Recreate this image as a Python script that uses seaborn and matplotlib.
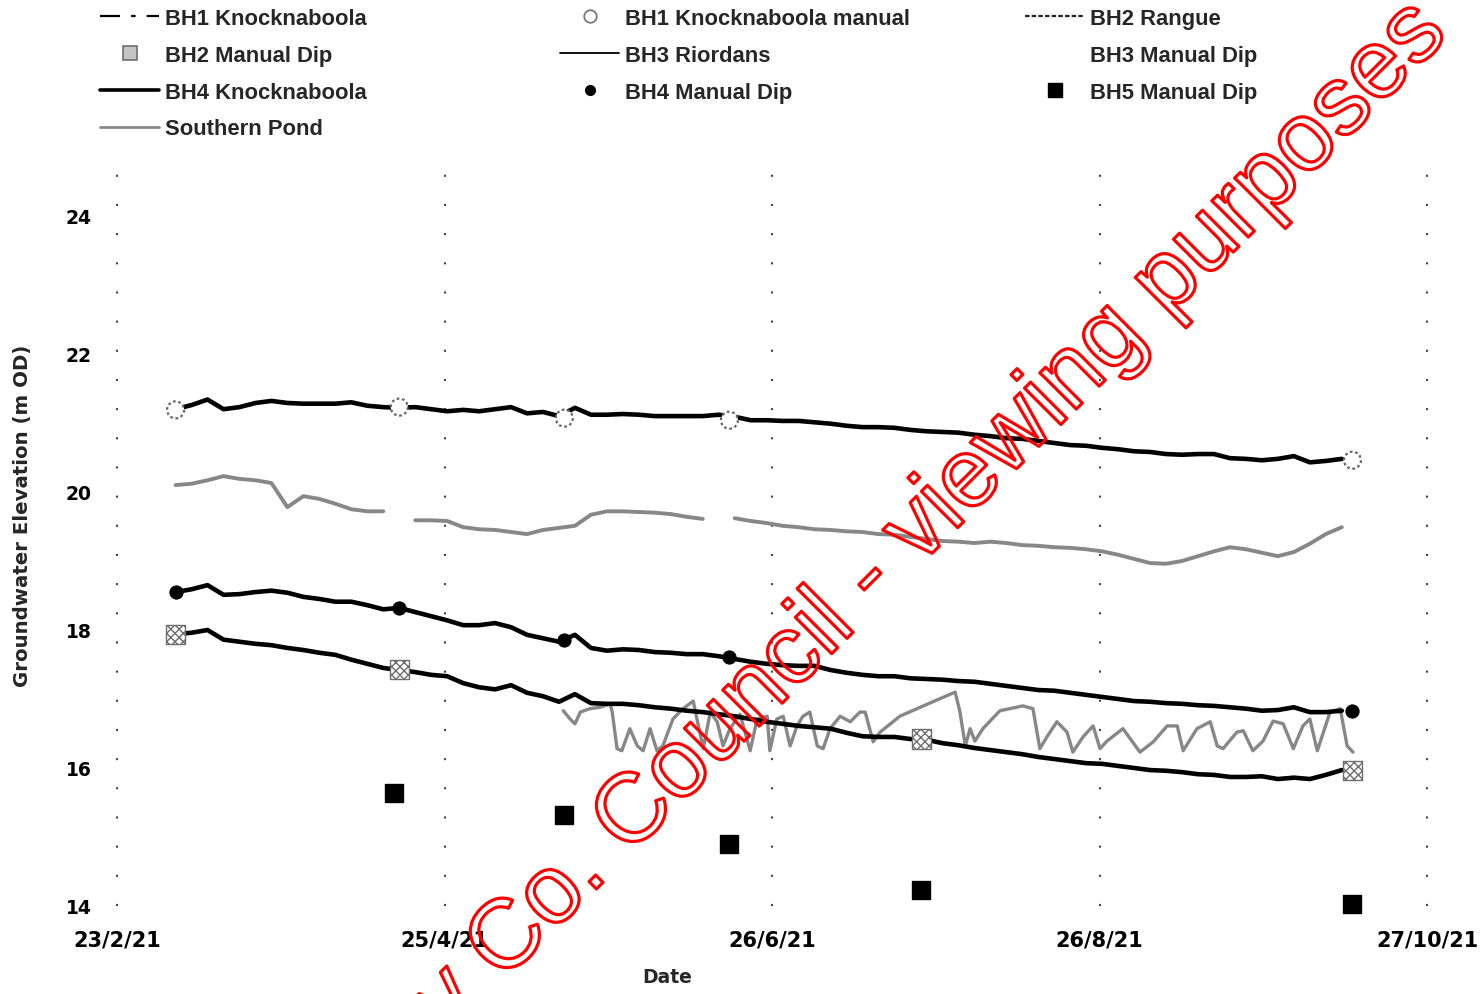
import numpy as np
import pandas as pd
import matplotlib
matplotlib.use("Agg")
import matplotlib.pyplot as plt
import seaborn as sns
from matplotlib.lines import Line2D
from matplotlib import patheffects as pe

# ---------------------------------------------------------------------------
# Logger records (3-day readings from 6 March 2021), elevations in m OD
# ---------------------------------------------------------------------------
logger_start = "2021-03-06"
logger_step = "3D"

bh1_level = [
    21.20, 21.26, 21.34, 21.20, 21.23, 21.29, 21.32, 21.29, 21.28, 21.28,
    21.28, 21.30, 21.25, 21.23, 21.22, 21.23, 21.20, 21.17, 21.19, 21.17,
    21.20, 21.23, 21.14, 21.16, 21.10, 21.22, 21.12, 21.12, 21.13, 21.12,
    21.10, 21.10, 21.10, 21.10, 21.12, 21.09, 21.04, 21.04, 21.03, 21.03,
    21.01, 20.99, 20.96, 20.94, 20.94, 20.93, 20.90, 20.88, 20.87, 20.86,
    20.83, 20.81, 20.78, 20.77, 20.74, 20.71, 20.68, 20.67, 20.64, 20.62,
    20.59, 20.58, 20.55, 20.54, 20.55, 20.55, 20.49, 20.48, 20.46, 20.48,
    20.52, 20.43, 20.45, 20.48,
]

bh2_level = [
    17.94, 17.96, 18.00, 17.86, 17.83, 17.80, 17.78, 17.74, 17.71, 17.67,
    17.64, 17.57, 17.51, 17.45, 17.42, 17.39, 17.35, 17.33, 17.23, 17.17,
    17.14, 17.20, 17.09, 17.04, 16.96, 17.07, 16.94, 16.93, 16.93, 16.91,
    16.88, 16.86, 16.83, 16.81, 16.78, 16.75, 16.71, 16.67, 16.64, 16.61,
    16.59, 16.57, 16.51, 16.46, 16.45, 16.45, 16.42, 16.41, 16.36, 16.33,
    16.29, 16.26, 16.23, 16.20, 16.16, 16.13, 16.10, 16.07, 16.06, 16.03,
    16.00, 15.97, 15.96, 15.94, 15.91, 15.90, 15.87, 15.87, 15.88, 15.84,
    15.86, 15.84, 15.90, 15.97,
]

bh4_level = [
    18.55, 18.59, 18.65, 18.51, 18.52, 18.55, 18.57, 18.54, 18.48, 18.45,
    18.41, 18.41, 18.36, 18.30, 18.32, 18.26, 18.20, 18.14, 18.07, 18.07,
    18.10, 18.04, 17.93, 17.88, 17.83, 17.93, 17.74, 17.70, 17.72, 17.71,
    17.68, 17.67, 17.65, 17.65, 17.62, 17.58, 17.54, 17.51, 17.49, 17.48,
    17.48, 17.42, 17.38, 17.35, 17.33, 17.33, 17.30, 17.29, 17.28, 17.26,
    17.25, 17.22, 17.19, 17.16, 17.13, 17.12, 17.09, 17.06, 17.03, 17.00,
    16.97, 16.96, 16.94, 16.93, 16.91, 16.90, 16.88, 16.86, 16.83, 16.84,
    16.88, 16.81, 16.81, 16.83,
]

pond_level = [
    20.10, 20.12, 20.17, 20.23, 20.19, 20.17, 20.13, 19.78, 19.94, 19.90,
    19.83, 19.75, 19.72, 19.72, np.nan, 19.59, 19.59, 19.58, 19.49, 19.46,
    19.45, 19.42, 19.39, 19.45, 19.48, 19.51, 19.67, 19.72, 19.72, 19.71,
    19.70, 19.68, 19.64, 19.61, np.nan, 19.62, 19.58, 19.55, 19.51, 19.49,
    19.46, 19.45, 19.43, 19.42, 19.39, 19.38, 19.35, 19.32, 19.29, 19.28,
    19.26, 19.28, 19.26, 19.23, 19.22, 19.20, 19.19, 19.17, 19.14, 19.09,
    19.03, 18.97, 18.96, 19.00, 19.07, 19.14, 19.20, 19.17, 19.12, 19.07,
    19.13, 19.25, 19.39, 19.49,
]

# BH3 Riordans logger: elapsed days after 23/2/21 and level
bh3_origin = "2021-02-23"
bh3_days = [
    83.8, 85.1, 86.0, 87.0, 88.8, 90.7, 92.6, 93.0, 93.9, 94.8,
    96.3, 97.7, 98.8, 100.1, 101.4, 102.5, 104.4, 106.3, 108.2, 110.1,
    111.4, 112.7, 113.8, 115.1, 117.0, 118.9, 120.2, 122.1, 122.6, 123.9,
    125.1, 126.4, 127.7, 128.8, 130.1, 131.5, 132.6, 133.9, 135.8, 137.7,
    139.5, 140.5, 142.0, 143.3, 147.0, 153.2, 157.4, 158.3, 159.3, 160.2,
    161.1, 162.6, 165.8, 170.1, 172.0, 173.3, 174.7, 176.5, 178.4, 179.5,
    181.4, 183.3, 184.6, 185.9, 188.9, 192.1, 194.6, 197.2, 199.1, 200.2,
    202.8, 205.3, 206.6, 207.7, 210.3, 211.5, 213.3, 215.2, 217.1, 219.0,
    220.9, 222.7, 224.0, 225.4, 227.8, 229.7, 231.0, 232.1,
]
bh3_level = [
    16.83, 16.71, 16.64, 16.81, 16.86, 16.88, 16.93, 16.81, 16.28, 16.25,
    16.57, 16.32, 16.25, 16.57, 16.25, 16.32, 16.71, 16.86, 16.97, 16.28,
    16.81, 16.67, 16.32, 16.57, 16.78, 16.25, 16.71, 16.75, 16.25, 16.71,
    16.75, 16.32, 16.61, 16.75, 16.81, 16.32, 16.28, 16.57, 16.75, 16.67,
    16.81, 16.81, 16.38, 16.52, 16.75, 16.96, 17.10, 16.81, 16.32, 16.57,
    16.39, 16.57, 16.83, 16.90, 16.86, 16.28, 16.46, 16.67, 16.52, 16.23,
    16.45, 16.61, 16.28, 16.39, 16.57, 16.23, 16.38, 16.61, 16.61, 16.25,
    16.57, 16.67, 16.32, 16.28, 16.52, 16.54, 16.25, 16.39, 16.68, 16.64,
    16.28, 16.61, 16.71, 16.25, 16.81, 16.86, 16.32, 16.23,
]

# Manual dips
bh1_manual_dates = ["2021-03-06", "2021-04-17", "2021-05-18", "2021-06-18", "2021-10-13"]
bh1_manual = [21.19, 21.23, 21.07, 21.04, 20.46]
bh2_manual_dates = ["2021-03-06", "2021-04-17", "2021-07-24", "2021-10-13"]
bh2_manual = [17.94, 17.43, 16.42, 15.96]
bh4_manual_dates = ["2021-03-06", "2021-04-17", "2021-05-18", "2021-06-18", "2021-10-13"]
bh4_manual = [18.55, 18.32, 17.85, 17.61, 16.83]
bh5_manual_dates = ["2021-04-16", "2021-05-18", "2021-06-18", "2021-07-24", "2021-10-13"]
bh5_manual = [15.64, 15.32, 14.90, 14.23, 14.03]

# Axis set-up
x_start, x_end = "2021-02-23", "2021-10-27"
x_major_days = 61.5
y_ticks = [14, 16, 18, 20, 22, 24]
y_limits = (14, 24.855)

legend_columns = [
    ["BH1 Knocknaboola", "BH2 Manual Dip", "BH4 Knocknaboola", "Southern Pond"],
    ["BH1 Knocknaboola manual", "BH3 Riordans", "BH4 Manual Dip"],
    ["BH2 Rangue", "BH3 Manual Dip", "BH5 Manual Dip"],
]

# ---------------------------------------------------------------------------
sns.set_theme(style="white")
plt.rcParams["font.family"] = ["DejaVu Sans"]
plt.rcParams["hatch.linewidth"] = 1.0

W, H = 1481, 995
fig = plt.figure(figsize=(W / 100, H / 100), dpi=100)
ax_left, ax_right, ax_bottom, ax_top = 117, 1427, 907, 158
ax = fig.add_axes([ax_left / W, 1 - ax_bottom / H,
                   (ax_right - ax_left) / W, (ax_bottom - ax_top) / H])

logger_dates = pd.date_range(logger_start, periods=len(bh1_level), freq=logger_step)
logger = pd.DataFrame({"date": logger_dates, "bh1": bh1_level, "bh2": bh2_level,
                       "bh4": bh4_level, "pond": pond_level})

black = "#000000"
grey = "#878787"

# Pond record has gaps: draw each continuous stretch as its own unit
pond = logger[["date", "pond"]].copy()
pond["stretch"] = pond["pond"].isna().cumsum()
pond = pond.dropna()
sns.lineplot(data=pond, x="date", y="pond", units="stretch", estimator=None,
             color=grey, lw=2.8, ax=ax, legend=False)

bh3 = pd.DataFrame({"date": pd.Timestamp(bh3_origin) + pd.to_timedelta(bh3_days, unit="D"),
                    "level": bh3_level})
sns.lineplot(data=bh3, x="date", y="level", estimator=None, sort=False,
             color=grey, lw=2.4, ax=ax, legend=False)

for col in ["bh1", "bh4", "bh2"]:
    sns.lineplot(data=logger, x="date", y=col, estimator=None, color=black,
                 lw=3.3, ax=ax, legend=False)

def manual_frame(dates, vals):
    return pd.DataFrame({"date": pd.to_datetime(dates), "level": vals})

sns.scatterplot(data=manual_frame(bh1_manual_dates, bh1_manual), x="date", y="level",
                marker="o", s=150, facecolor="white", edgecolor="#666666",
                linewidth=1.6, linestyle=(0, (1.2, 1.2)), ax=ax, zorder=4)
sns.scatterplot(data=manual_frame(bh2_manual_dates, bh2_manual), x="date", y="level",
                marker="s", s=190, facecolor="white", edgecolor="#6e6e6e",
                linewidth=1.0, hatch="xxxx", ax=ax, zorder=4)
sns.scatterplot(data=manual_frame(bh4_manual_dates, bh4_manual), x="date", y="level",
                marker="o", s=90, color=black, edgecolor=black, ax=ax, zorder=4)
sns.scatterplot(data=manual_frame(bh5_manual_dates, bh5_manual), x="date", y="level",
                marker="s", s=150, color=black, edgecolor=black, ax=ax, zorder=4,
                clip_on=False)

# Axes cosmetics
t0 = pd.Timestamp(x_start)
ax.set_xlim(t0, pd.Timestamp(x_end))
ax.set_ylim(*y_limits)
xticks = [t0 + pd.Timedelta(days=x_major_days * i) for i in range(5)]
ax.set_xticks(xticks)
ax.set_xticklabels([f"{d.day}/{d.month}/{d.strftime('%y')}" for d in xticks],
                   fontsize=15, fontweight="bold")
ax.set_yticks(y_ticks)
ax.set_yticklabels([str(v) for v in y_ticks], fontsize=13.5, fontweight="bold")
ax.tick_params(axis="both", length=0, colors=black)
ax.tick_params(axis="y", pad=18)
ax.tick_params(axis="x", pad=17)
for s in ax.spines.values():
    s.set_visible(False)
ax.grid(axis="x", color="#444444", linestyle=(0, (1, 13)), linewidth=1.5)
ax.grid(axis="y", visible=False)
for gl in ax.get_xgridlines():
    gl.set_clip_on(False)

ax.set_xlabel("Date", fontsize=13.5, fontweight="bold")
ax.xaxis.set_label_coords((667 - ax_left) / (ax_right - ax_left),
                          (ax_bottom - 968) / (ax_bottom - ax_top))
ax.set_ylabel("Groundwater Elevation (m OD)", fontsize=14.2, fontweight="bold")
ax.yaxis.set_label_coords((32 - ax_left) / (ax_right - ax_left),
                          (ax_bottom - 516) / (ax_bottom - ax_top))

# Legend handles
handles = {
    "BH1 Knocknaboola": Line2D([], [], color=black, lw=1.6, ls=(0, (9, 5, 2, 5))),
    "BH1 Knocknaboola manual": Line2D([], [], ls="none", marker="o", ms=9,
                                      mfc="white", mec="#777777", mew=1.3),
    "BH2 Rangue": Line2D([], [], color="#222222", lw=1.6, ls=(0, (2, 1))),
    "BH2 Manual Dip": Line2D([], [], ls="none", marker="s", ms=10,
                             mfc="#c4c4c4", mec="#6e6e6e", mew=1.2),
    "BH3 Riordans": Line2D([], [], color=black, lw=1.3),
    "BH3 Manual Dip": Line2D([], [], ls="none", marker="o", ms=9,
                             mfc="white", mec="white"),
    "BH4 Knocknaboola": Line2D([], [], color=black, lw=2.6),
    "BH4 Manual Dip": Line2D([], [], ls="none", marker="o", ms=7, mfc=black, mec=black),
    "BH5 Manual Dip": Line2D([], [], ls="none", marker="s", ms=10, mfc=black, mec=black),
    "Southern Pond": Line2D([], [], color=grey, lw=2.0),
}
col_x = [100, 560, 1025]
for cx, names in zip(col_x, legend_columns):
    fig.legend([handles[n] for n in names], names, loc="upper left",
               bbox_to_anchor=(cx / W, 1 - 9 / H), frameon=False,
               prop={"family": "Liberation Sans", "weight": "bold", "size": 15.8},
               handlelength=2.7, handletextpad=0.25, labelspacing=0.72,
               borderpad=0, borderaxespad=0)

# Red outlined overlay text
fig.text(867 / W, 1 - 584 / H, "Kerry Co. Council - viewing purposes",
         rotation=45, ha="center", va="center", fontsize=70,
         family="Liberation Sans", color="none", zorder=10,
         path_effects=[pe.Stroke(linewidth=2.3, foreground="#ff0000")])

fig.savefig("out.png", dpi=100)
